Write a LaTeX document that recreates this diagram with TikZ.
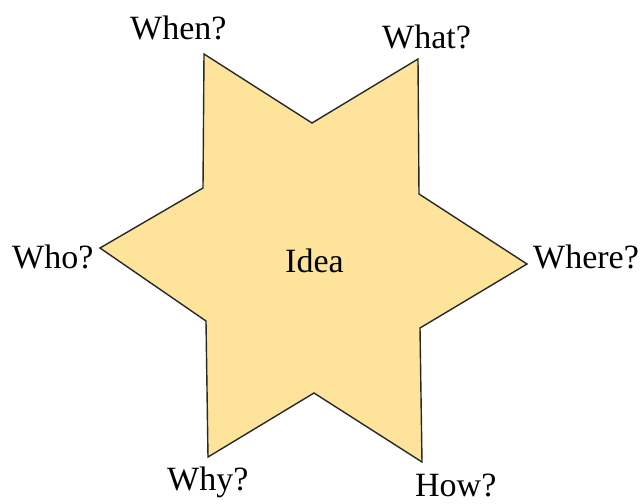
\documentclass[tikz,border=0pt]{standalone}
\usepackage{fontspec}
\setmainfont{Liberation Serif}
\usepackage{tikz}

\definecolor{ideafill}{RGB}{254,228,155}
\definecolor{idealine}{RGB}{40,40,40}

\begin{document}
\begin{tikzpicture}[x=1pt,y=-1pt,
  star/.style={draw=idealine,fill=ideafill,line width=1.4pt,line join=miter},
  lbl/.style={inner sep=0pt,anchor=base west,font=\fontsize{34}{40}\selectfont}]
\useasboundingbox (0,0) rectangle (641,504);
\draw[star] (204,54) -- (312,123) -- (418,59) -- (419,194) -- (527,264)
   -- (420,328) -- (422,462) -- (314,393) -- (208,457) -- (206,321)
   -- (100,248) -- (203,188) -- cycle;
\foreach \n/\x/\y/\t in %
{when/130/39/When?,what/382/48/What?,who/12/268/Who?,where/533/268/Where?,%
 idea/285/272/Idea,why/167/490/Why?,how/415/496/How?} {
   \node[lbl] (\n) at (\x,\y) {\t};
}
\end{tikzpicture}
\end{document}
